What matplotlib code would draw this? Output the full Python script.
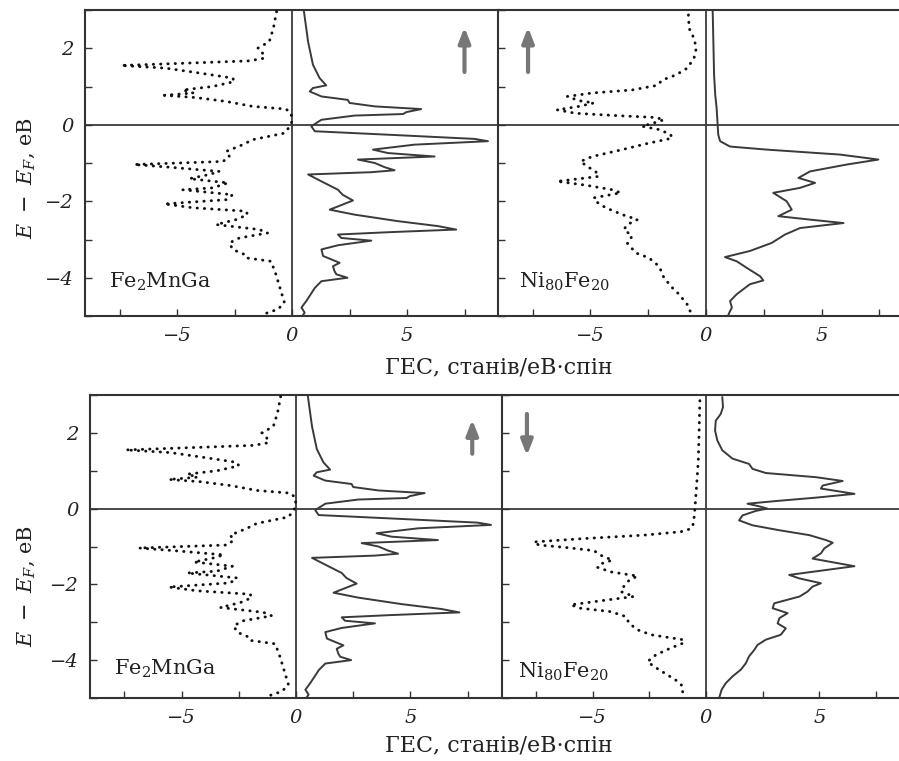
import matplotlib
matplotlib.use("Agg")
import matplotlib.pyplot as plt
from matplotlib.ticker import MultipleLocator

plt.rcParams["font.family"] = ["DejaVu Serif"]
plt.rcParams["mathtext.fontset"] = "dejavuserif"

# -- data: energy (eV) and DOS (states/eV·spin) ---------------------------
# Fe2MnGa, dotted (plotted negative)
fe_dot_E = [2.96, 2.52, 2.17, 2.0, 1.87, 1.74, 1.67, 1.61, 1.55, 1.48, 1.35, 1.22, 1.13,
            1.0, 0.91, 0.83, 0.77, 0.71, 0.61, 0.48, 0.41, 0.30, 0.09, -0.04, -0.22,
            -0.39, -0.52, -0.70, -0.83, -0.96, -1.04, -1.11, -1.22, -1.30, -1.41, -1.52,
            -1.65, -1.70, -1.83, -1.96, -2.07, -2.17, -2.26, -2.35, -2.48, -2.61, -2.74,
            -2.83, -2.96, -3.09, -3.26, -3.39, -3.48, -3.57, -3.91, -4.35, -4.65, -4.83,
            -4.91, -5.0]
fe_dot = [-0.67, -0.81, -0.99, -1.49, -1.28, -1.20, -1.86, -4.6, -7.43, -5.5, -4.0, -2.58,
          -2.5, -3.45, -4.75, -4.3, -5.55, -4.17, -2.87, -1.71, -0.26, -0.04, 0.0, -0.09,
          -0.33, -1.71, -2.14, -2.87, -2.72, -3.0, -6.86, -5.33, -3.16, -3.59, -4.46, -2.78,
          -3.45, -4.75, -2.58, -2.87, -5.55, -4.32, -2.0, -1.93, -2.43, -3.3, -1.42, -1.06,
          -2.29, -2.72, -2.58, -2.07, -2.0, -0.91, -0.70, -0.48, -0.33, -0.62, -1.06, -1.3]

# Fe2MnGa, solid
fe_line_E = [2.96, 2.17, 1.57, 1.22, 1.03, 0.96, 0.87, 0.74, 0.65, 0.57, 0.48, 0.41, 0.33,
             0.28, 0.24, 0.13, -0.04, -0.17, -0.26, -0.37, -0.43, -0.52, -0.65, -0.74,
             -0.83, -0.91, -1.0, -1.11, -1.19, -1.24, -1.30, -1.48, -1.70, -1.83, -1.98,
             -2.22, -2.35, -2.52, -2.65, -2.74, -2.81, -2.87, -2.96, -3.03, -3.15, -3.26,
             -3.43, -3.61, -3.70, -3.83, -3.91, -4.0, -4.09, -4.26, -4.61, -4.78, -4.91, -5.0]
fe_line = [0.52, 0.70, 0.91, 1.2, 1.49, 0.91, 0.77, 1.28, 2.43, 2.5, 3.6, 5.62, 4.97, 4.83,
           2.72, 1.28, 0.84, 0.99, 4.17, 7.94, 8.52, 5.33, 3.52, 4.17, 6.2, 2.87, 3.6, 4.03,
           4.46, 3.45, 0.70, 1.28, 2.0, 2.2, 2.65, 1.64, 2.72, 4.6, 6.35, 7.14, 4.17, 2.0,
           2.14, 3.45, 2.0, 1.28, 1.35, 2.07, 1.78, 1.85, 1.93, 2.41, 1.28, 1.0, 0.62, 0.41,
           0.55, 0.45]

# Ni80Fe20 top, dotted
ni_top_dot_E = [2.87, 2.52, 2.26, 2.0, 1.74, 1.48, 1.30, 1.17, 1.03, 0.91, 0.83, 0.74, 0.63,
                0.57, 0.48, 0.39, 0.30, 0.24, 0.19, 0.13, 0.04, -0.04, -0.13, -0.26, -0.35,
                -0.48, -0.65, -0.83, -0.96, -1.09, -1.22, -1.35, -1.48, -1.58, -1.70, -1.78,
                -1.91, -2.0, -2.17, -2.35, -2.48, -2.61, -2.74, -2.91, -3.09, -3.35, -3.48,
                -3.70, -4.0, -4.26, -4.43, -4.70, -4.91]
ni_top_dot = [-0.76, -0.73, -0.52, -0.42, -0.52, -0.81, -1.31, -1.89, -2.11, -3.19, -4.92,
              -6.0, -5.5, -4.85, -5.5, -6.44, -5.65, -3.91, -2.18, -1.82, -2.3, -2.76, -2.0,
              -1.53, -1.46, -2.47, -3.62, -4.92, -5.43, -5.14, -4.78, -4.63, -6.44, -5.2,
              -4.05, -3.69, -4.85, -4.78, -4.34, -3.62, -2.97, -3.41, -3.55, -3.19, -3.41,
              -3.04, -2.47, -2.03, -1.82, -1.46, -1.17, -0.81, -0.66]

# Ni80Fe20 top, solid
ni_top_line_E = [2.96, 1.30, 0.78, 0.43, -0.26, -0.43, -0.57, -0.65, -0.78, -0.91, -1.04,
                 -1.22, -1.39, -1.52, -1.65, -1.78, -2.0, -2.22, -2.39, -2.48, -2.57, -2.70,
                 -2.87, -3.09, -3.30, -3.46, -3.57, -3.74, -3.96, -4.07, -4.17, -4.43, -4.61,
                 -4.78, -4.91, -5.0]
ni_top_line = [0.29, 0.35, 0.40, 0.46, 0.53, 0.61, 1.04, 2.63, 5.8, 7.46, 6.09, 4.5, 4.0,
               4.72, 4.07, 2.91, 3.49, 3.71, 3.13, 4.5, 5.95, 4.07, 3.42, 2.84, 1.9, 0.82,
               1.33, 1.76, 2.34, 2.48, 1.9, 1.33, 1.04, 1.12, 1.01, 0.95]

# Ni80Fe20 bottom, dotted
ni_bot_dot_E = [2.85, 2.15, 1.27, 0.39, 0.0, -0.39, -0.53, -0.61, -0.70, -0.79, -0.88, -0.96,
                -1.03, -1.11, -1.23, -1.36, -1.46, -1.55, -1.67, -1.78, -1.89, -2.04, -2.19,
                -2.32, -2.41, -2.54, -2.63, -2.72, -2.85, -3.03, -3.20, -3.33, -3.46, -3.54,
                -3.68, -3.86, -4.04, -4.17, -4.39, -4.56, -4.69, -4.87]
ni_bot_dot = [-0.27, -0.30, -0.34, -0.44, -0.49, -0.55, -0.66, -1.11, -2.73, -5.38, -7.6,
              -7.38, -6.12, -4.94, -4.65, -4.13, -4.65, -4.79, -4.2, -3.02, -3.39, -3.61,
              -3.76, -3.17, -4.35, -5.97, -5.53, -4.2, -3.54, -3.39, -3.02, -2.43, -1.03,
              -0.96, -1.55, -2.21, -2.58, -2.29, -1.7, -1.25, -1.03, -1.03]

# Ni80Fe20 bottom, solid
ni_bot_line_E = [2.94, 2.68, 2.5, 2.32, 2.06, 1.80, 1.54, 1.32, 1.18, 1.05, 0.94, 0.83, 0.73,
                 0.61, 0.53, 0.39, 0.29, 0.20, 0.13, 0.06, 0.0, -0.06, -0.18, -0.31, -0.44,
                 -0.57, -0.70, -0.83, -0.90, -1.05, -1.18, -1.32, -1.40, -1.52, -1.62, -1.75,
                 -1.84, -1.97, -2.06, -2.19, -2.32, -2.50, -2.63, -2.76, -2.89, -3.03, -3.16,
                 -3.33, -3.46, -3.6, -3.73, -3.9, -4.08, -4.25, -4.43, -4.61, -4.78, -4.96]
ni_bot_line = [0.72, 0.75, 0.65, 0.43, 0.40, 0.5, 0.72, 1.17, 1.9, 2.05, 2.64, 4.85, 6.03,
               5.15, 5.07, 6.55, 4.85, 3.08, 1.83, 2.35, 2.71, 2.2, 1.61, 1.46, 2.05, 3.23,
               4.56, 5.29, 5.59, 5.22, 5.07, 4.7, 5.44, 6.55, 5.3, 3.67, 4.1, 5.07, 4.7, 4.48,
               4.13, 3.01, 2.94, 3.6, 3.24, 3.16, 3.52, 3.3, 2.64, 2.27, 2.13, 1.9, 1.76, 1.54,
               1.17, 0.87, 0.69, 0.6]

xlabel = "ГЕС, станів/еВ·спін"
ylabel = r"$E\ -\ E_F$, еВ"

W, H = 899, 761
fig = plt.figure(figsize=(W / 100, H / 100), dpi=100)


def px_axes(x0, y0, x1, y1):
    return fig.add_axes([x0 / W, 1 - y1 / H, (x1 - x0) / W, (y1 - y0) / H])


def style(ax, ylabels=True):
    ax.set_xlim(-9, 9)
    ax.set_ylim(-5, 3)
    ax.axhline(0, color="#3a3a3a", lw=1.3, zorder=1)
    ax.axvline(0, color="#3a3a3a", lw=1.3, zorder=1)
    for s in ["left", "bottom", "top"]:
        ax.spines[s].set_linewidth(1.5)
        ax.spines[s].set_color("#333333")
    ax.spines["right"].set_visible(False)
    ax.xaxis.set_major_locator(MultipleLocator(5))
    ax.xaxis.set_minor_locator(MultipleLocator(2.5))
    ax.yaxis.set_major_locator(MultipleLocator(2))
    ax.yaxis.set_minor_locator(MultipleLocator(1))
    ax.tick_params(which="both", direction="in", length=5, width=1.0, colors="#333333",
                   labelsize=14, labelcolor="#222222", pad=8)
    ax.set_xticks([-5, 0, 5])
    ax.set_xticklabels(["\u22125", "0", "5"], fontstyle="italic")
    ax.set_yticks([-4, -2, 0, 2])
    if ylabels:
        ax.set_yticklabels(["\u22124", "\u22122", "0", "2"], fontstyle="italic")
    else:
        ax.set_yticklabels([])


def dotted(ax, x, y):
    ax.plot(x, y, color="#111111", lw=2.1, linestyle=(0, (0.1, 2.4)),
            dash_capstyle="round", zorder=3)


def solid(ax, x, y):
    ax.plot(x, y, color="#3a3a3a", lw=1.4, zorder=3)


def arrow(ax, x, y_tail, y_head):
    ax.annotate("", xy=(x, y_head), xytext=(x, y_tail),
                arrowprops=dict(arrowstyle="-|>,head_length=0.9,head_width=0.35",
                                lw=3, color="#777777", shrinkA=0, shrinkB=0))


rows = [
    dict(top=10, bot=316, lx=(85, 499), rx=(498, 914), ni_dot=(ni_top_dot, ni_top_dot_E),
         ni_line=(ni_top_line, ni_top_line_E), arr_l=(7.5, 1.38, 2.55),
         arr_r=(-7.7, 1.38, 2.55), xlab_y=367, ylab_y=178, fe_lbl=-4.12, ni_lbl=(-8.1, -4.12)),
    dict(top=395, bot=698, lx=(90, 502), rx=(502, 910), ni_dot=(ni_bot_dot, ni_bot_dot_E),
         ni_line=(ni_bot_line, ni_bot_line_E), arr_l=(7.7, 1.45, 2.35),
         arr_r=(-7.9, 2.5, 1.4), xlab_y=745, ylab_y=586, fe_lbl=-4.22, ni_lbl=(-8.3, -4.3)),
]

for r in rows:
    axl = px_axes(r["lx"][0], r["top"], r["lx"][1], r["bot"])
    axr = px_axes(r["rx"][0], r["top"], r["rx"][1], r["bot"])
    style(axl, True)
    style(axr, False)

    dotted(axl, fe_dot, fe_dot_E)
    solid(axl, fe_line, fe_line_E)
    dotted(axr, *r["ni_dot"])
    solid(axr, *r["ni_line"])

    arrow(axl, *r["arr_l"])
    arrow(axr, *r["arr_r"])

    axl.text(-7.95, r["fe_lbl"], "Fe$_2$MnGa", fontsize=15, ha="left", va="center",
             color="#222222")
    axr.text(r["ni_lbl"][0], r["ni_lbl"][1], "Ni$_{80}$Fe$_{20}$", fontsize=15, ha="left",
             va="center", color="#222222")

    fig.text(499 / W, 1 - r["xlab_y"] / H, xlabel, fontsize=16, ha="center", va="center",
             color="#222222")
    fig.text(26 / W, 1 - r["ylab_y"] / H, ylabel, fontsize=15, ha="center", va="center",
             rotation=90, color="#222222")

fig.savefig("out.png", dpi=100)
